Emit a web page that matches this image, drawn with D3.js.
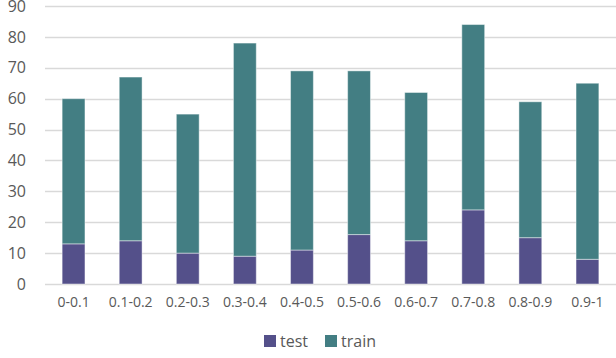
<!DOCTYPE html>
<html>
<head>
<meta charset="utf-8">
<script src="https://cdn.jsdelivr.net/npm/d3@7"></script>
<style>
  html, body { margin: 0; padding: 0; background: #fff; }
  svg { display: block; font-family: "Open Sans", "Noto Sans", sans-serif; }
</style>
</head>
<body>
<svg id="chart" width="616" height="358"></svg>
<script>
// Score bins and counts per split
const categories = ["0-0.1", "0.1-0.2", "0.2-0.3", "0.3-0.4", "0.4-0.5", "0.5-0.6", "0.6-0.7", "0.7-0.8", "0.8-0.9", "0.9-1"];
const testValues = [13, 14, 10, 9, 11, 16, 14, 24, 15, 8];
const trainValues = [47, 53, 45, 69, 58, 53, 48, 60, 44, 57];
const seriesNames = ["test", "train"];
const seriesColors = ["#54508a", "#437e83"];
const yTicks = [0, 10, 20, 30, 40, 50, 60, 70, 80, 90];

const svg = d3.select("#chart");
const margin = { top: 6, right: 0, bottom: 74, left: 45 };
const width = 616, height = 358;

const rows = categories.map((c, i) => ({ cat: c, test: testValues[i], train: trainValues[i] }));
const stack = d3.stack().keys(seriesNames)(rows);

const x = d3.scaleBand().domain(categories)
  .range([margin.left, width - margin.right]).paddingInner(0.6).paddingOuter(0.3);
const y = d3.scaleLinear().domain([0, 90]).range([height - margin.bottom, margin.top]);

// gridlines
svg.append("g").selectAll("line").data(yTicks).join("line")
  .attr("x1", margin.left).attr("x2", width - margin.right)
  .attr("y1", d => Math.round(y(d)) + 0.5).attr("y2", d => Math.round(y(d)) + 0.5)
  .attr("stroke", "#d9d9d9").attr("stroke-width", 1.3);

// y axis labels
const yAxis = svg.append("g").attr("transform", `translate(${margin.left - 19},0)`)
  .call(d3.axisLeft(y).tickValues(yTicks).tickSize(0).tickPadding(0));
yAxis.select(".domain").remove();
yAxis.selectAll("text").attr("fill", "#595959").style("font-size", "16px")
  .style("font-family", "'Open Sans', sans-serif");

// stacked bars
svg.append("g").selectAll("g").data(stack).join("g")
  .attr("fill", (d, i) => seriesColors[i])
  .selectAll("rect").data(d => d).join("rect")
  .attr("x", d => x(d.data.cat))
  .attr("width", x.bandwidth())
  .attr("y", d => y(d[1]))
  .attr("height", d => y(d[0]) - y(d[1]))
  .attr("stroke", "#ffffff").attr("stroke-opacity", 0.45).attr("stroke-width", 1);

// x axis labels
const xAxis = svg.append("g").attr("transform", `translate(0,${height - margin.bottom + 13})`)
  .call(d3.axisBottom(x).tickSize(0).tickPadding(0));
xAxis.select(".domain").remove();
xAxis.selectAll("text").attr("fill", "#595959").style("font-size", "14px")
  .style("font-family", "'Open Sans', sans-serif");

// legend
const legend = svg.append("g").attr("transform", "translate(264,335)");
const items = [{ name: seriesNames[0], color: seriesColors[0], dx: 0 },
               { name: seriesNames[1], color: seriesColors[1], dx: 61 }];
const li = legend.selectAll("g").data(items).join("g")
  .attr("transform", d => `translate(${d.dx},0)`);
li.append("rect").attr("width", 12).attr("height", 12).attr("fill", d => d.color);
li.append("text").attr("x", 16).attr("y", 12).text(d => d.name)
  .attr("fill", "#595959").style("font-size", "16px");
</script>
</body>
</html>
